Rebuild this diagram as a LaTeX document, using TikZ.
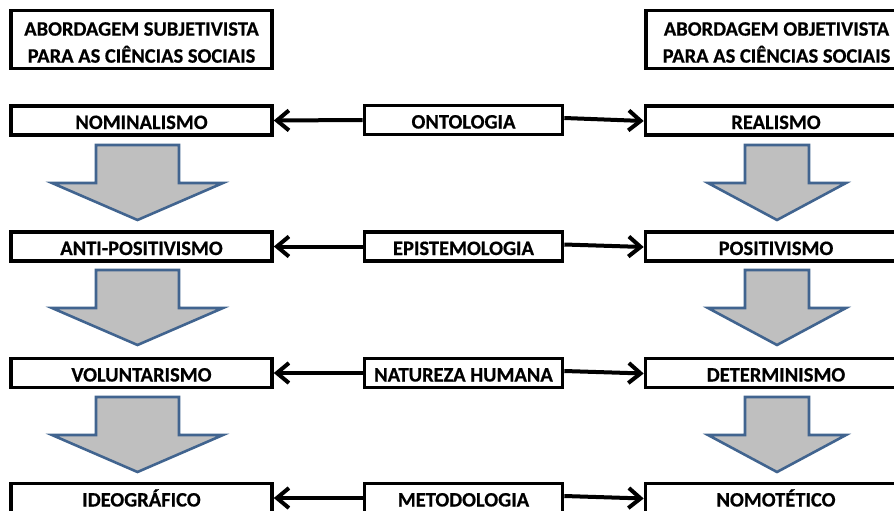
\documentclass[tikz,border=0pt]{standalone}
\usepackage{fontspec}
\setmainfont{Carlito}[BoldFeatures={FakeBold=0.6}]
\usetikzlibrary{arrows.meta}
\definecolor{arrfill}{HTML}{BFBFBF}
\definecolor{arrline}{HTML}{41648F}
\begin{document}
\begin{tikzpicture}[x=1pt,y=-1pt,
  boxfont/.style={font=\fontsize{20.5}{27}\selectfont\bfseries},
  box/.style={draw=black, line width=3.6pt, fill=white, inner sep=0pt, boxfont, align=center},
  rowbox/.style={box, minimum width=261pt, minimum height=29pt, text height=17pt, text depth=0pt},
  midbox/.style={box, minimum width=198pt, minimum height=29pt, text height=17pt, text depth=0pt},
  headbox/.style={box, minimum width=261pt, minimum height=58pt},
  headtext/.style={boxfont, align=center, inner sep=0pt},
  conn/.style={line width=4pt, -{Straight Barb[length=12pt, width=20pt]}},
  blockarr/.style={draw=arrline, fill=arrfill, line width=2.6pt, line join=miter}
]
\useasboundingbox (0,0) rectangle (894,511);
\clip (0,0) rectangle (894,511);
\fill[white] (0,0) rectangle (894,511);

% headers
\node[headbox] (hl) at (141.5,39.5) {};
\node[headtext] (hlt) at ([yshift=-3pt]hl.center) {ABORDAGEM SUBJETIVISTA\\PARA AS CIÊNCIAS SOCIAIS};
\node[headbox] (hr) at (776.5,39.5) {};
\node[headtext] (hrt) at ([yshift=-3pt]hr.center) {ABORDAGEM OBJETIVISTA\\PARA AS CIÊNCIAS SOCIAIS};

% rows
\node[rowbox] (l1) at (141.5,120.5) {NOMINALISMO};
\node[midbox] (m1) at (463.5,120) {ONTOLOGIA};
\node[rowbox] (r1) at (776,120.5) {REALISMO};

\node[rowbox] (l2) at (141.5,246.5) {ANTI-POSITIVISMO};
\node[midbox] (m2) at (463.5,246.5) {EPISTEMOLOGIA};
\node[rowbox] (r2) at (776,246.5) {POSITIVISMO};

\node[rowbox] (l3) at (141.5,373) {VOLUNTARISMO};
\node[midbox] (m3) at (463.5,373) {NATUREZA HUMANA};
\node[rowbox] (r3) at (776,373) {DETERMINISMO};

\node[rowbox] (l4) at (141.5,498) {IDEOGRÁFICO};
\node[midbox] (m4) at (463.5,498) {METODOLOGIA};
\node[rowbox] (r4) at (776,498) {NOMOTÉTICO};

% horizontal connectors
\foreach \i in {1,2,3,4}{
  \draw[conn] (m\i.west) -- (l\i.east);
  \draw[conn] ([yshift=2pt]m\i.east) -- ([yshift=-0.5pt]r\i.west);
}

% block down arrows
\foreach \t in {145,270,397}{
  \draw[blockarr] (96,\t) -- (179,\t) -- (179,\t+38) -- (223,\t+38) -- (137.5,\t+75)
    -- (52,\t+38) -- (96,\t+38) -- cycle;
  \draw[blockarr] (745,\t) -- (809,\t) -- (809,\t+38) -- (846,\t+38) -- (777,\t+75)
    -- (708,\t+38) -- (745,\t+38) -- cycle;
}
\end{tikzpicture}
\end{document}
